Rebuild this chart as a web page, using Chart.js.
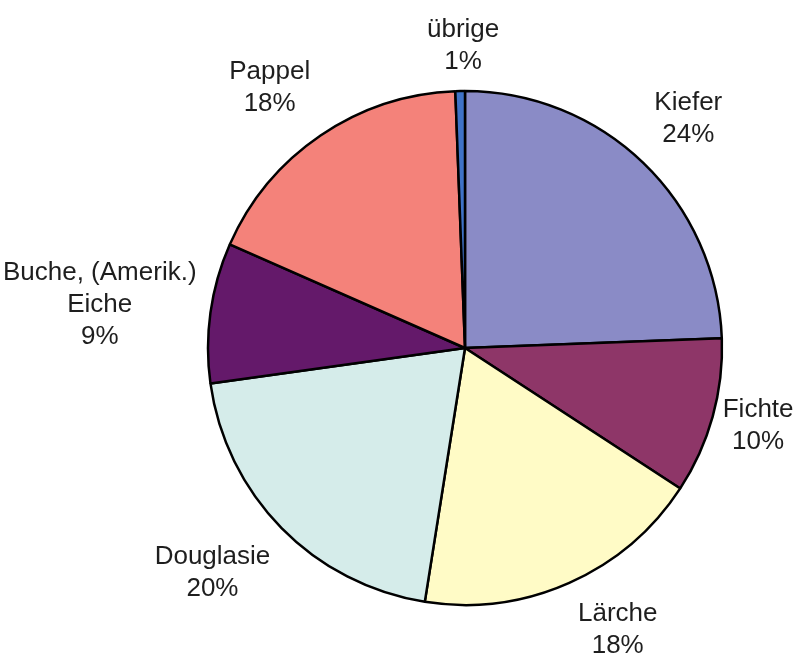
<!DOCTYPE html>
<html>
<head>
<meta charset="utf-8">
<script src="https://cdn.jsdelivr.net/npm/chart.js@4.4.0/dist/chart.umd.min.js"></script>
<style>
  html, body { margin: 0; padding: 0; background: #ffffff; }
  #wrap { width: 799px; height: 654px; }
</style>
</head>
<body>
<div id="wrap"><canvas id="grafico" width="799" height="654"></canvas></div>
<script>
// Holzarten - Anteile (%)
var sorten = [["Kiefer"], ["Fichte"], ["Lärche"], ["Douglasie"], ["Buche, (Amerik.)", "Eiche"], ["Pappel"], ["übrige"]];
var anteile = [24.4, 9.8, 18.3, 20.3, 8.8, 17.8, 0.6];
var prozent = ["24%", "10%", "18%", "20%", "9%", "18%", "1%"];
var farben = ["#8a8bc6", "#8e3668", "#fffbc6", "#d5ecea", "#64196a", "#f4827a", "#3f72c6"];

// kleine Korrekturen der Beschriftung (wie in der Vorlage)
var nudge = [[9, -8], [-6, -4], [25, 1], [-15, 10], [3, 1], [-18, -6], [4, 5]];

var labelPlugin = {
  id: "etiketten",
  afterDraw: function (chart) {
    var ctx = chart.ctx;
    var meta = chart.getDatasetMeta(0);
    var zeile = 32;
    ctx.save();
    ctx.font = "26px 'Liberation Sans', Arial, sans-serif";
    ctx.fillStyle = "#1e1e1e";
    ctx.textAlign = "center";
    ctx.textBaseline = "middle";
    for (var i = 0; i < meta.data.length; i++) {
      var arc = meta.data[i];
      var mitte = (arc.startAngle + arc.endAngle) / 2;
      var dx = Math.cos(mitte), dy = Math.sin(mitte);
      var zeilen = sorten[i].concat([prozent[i]]);
      var breite = 0;
      for (var k = 0; k < zeilen.length; k++) {
        breite = Math.max(breite, ctx.measureText(zeilen[k]).width);
      }
      var hoehe = zeilen.length * zeile;
      var r = arc.outerRadius + 18;
      var x = arc.x + dx * r + dx * breite / 2 + nudge[i][0];
      var y = arc.y + dy * r + dy * hoehe / 2 + nudge[i][1];
      var y0 = y - hoehe / 2 + zeile / 2;
      for (var k = 0; k < zeilen.length; k++) {
        ctx.fillText(zeilen[k], x, y0 + k * zeile);
      }
    }
    ctx.restore();
  }
};

new Chart(document.getElementById("grafico").getContext("2d"), {
  type: "pie",
  data: {
    labels: sorten.map(function (s) { return s.join(" "); }),
    datasets: [{
      data: anteile,
      backgroundColor: farben,
      borderColor: "#000000",
      borderWidth: 2.5,
      hoverOffset: 0
    }]
  },
  options: {
    responsive: false,
    animation: false,
    radius: 257,
    layout: { padding: { left: 150, right: 19, top: 80, bottom: 38 } },
    plugins: {
      legend: { display: false },
      tooltip: { enabled: false }
    }
  },
  plugins: [labelPlugin]
});
</script>
</body>
</html>
